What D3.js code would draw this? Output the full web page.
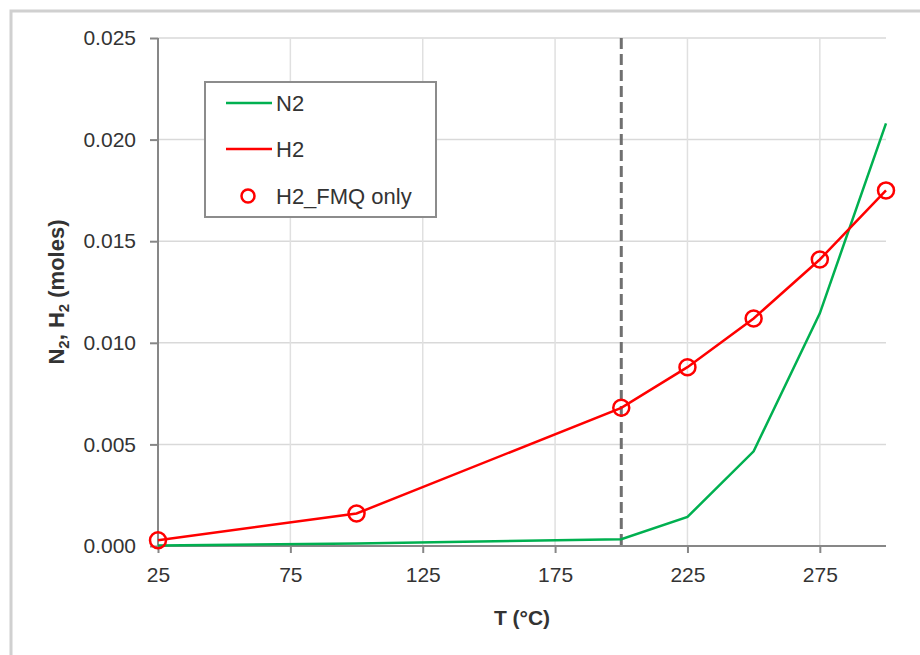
<html>
<head>
<meta charset="utf-8">
<title>N2, H2 vs T</title>
<script src="https://cdnjs.cloudflare.com/ajax/libs/d3/7.8.5/d3.min.js"></script>
<style>
  body { margin: 0; background: #fff; }
  text { font-family: "Liberation Sans", Arial, sans-serif; fill: #333; }
</style>
</head>
<body>
<script>
  // data
  var temps = [25, 100, 200, 225, 250, 275, 300];
  var n2 = [0.00003, 0.00012, 0.00033, 0.00143, 0.00466, 0.01145, 0.0208];
  var h2 = [0.00028, 0.0016, 0.0068, 0.0088, 0.0112, 0.0141, 0.0175];
  var h2Fmq = [0.00028, 0.0016, 0.0068, 0.0088, 0.0112, 0.0141, 0.0175];
  var xTicks = [25, 75, 125, 175, 225, 275];
  var yTicks = [0, 0.005, 0.010, 0.015, 0.020, 0.025];
  var cutoffT = 200;
  var legendNames = ["N2", "H2", "H2_FMQ only"];

  var W = 920, H = 655;
  var plotL = 158, plotR = 886, plotT = 38, plotB = 546;

  var svg = d3.select("body").append("svg")
    .attr("width", W)
    .attr("height", H);

  // outer chart frame
  svg.append("rect")
    .attr("x", 11).attr("y", 11)
    .attr("width", 960).attr("height", 700)
    .attr("fill", "none")
    .attr("stroke", "#d0d0d0")
    .attr("stroke-width", 3);

  var x = d3.scaleLinear().domain([25, 300]).range([plotL, plotR]);
  var y = d3.scaleLinear().domain([0, 0.025]).range([plotB, plotT]);

  // gridlines
  svg.append("g").selectAll("line")
    .data(yTicks.slice(1))
    .enter().append("line")
    .attr("x1", plotL).attr("x2", plotR)
    .attr("y1", function(d) { return y(d); })
    .attr("y2", function(d) { return y(d); })
    .attr("stroke", "#d9d9d9").attr("stroke-width", 1.5);

  svg.append("g").selectAll("line")
    .data(xTicks.slice(1))
    .enter().append("line")
    .attr("y1", plotT).attr("y2", plotB)
    .attr("x1", function(d) { return x(d); })
    .attr("x2", function(d) { return x(d); })
    .attr("stroke", "#e0e0e0").attr("stroke-width", 1.5);

  // axes
  var yAxis = svg.append("g")
    .attr("transform", "translate(" + plotL + ",0)")
    .call(d3.axisLeft(y).tickValues(yTicks).tickFormat(d3.format(".3f")).tickSize(8).tickPadding(14));
  var xAxis = svg.append("g")
    .attr("transform", "translate(0," + plotB + ")")
    .call(d3.axisBottom(x).tickValues(xTicks).tickSize(7).tickPadding(14));

  [yAxis, xAxis].forEach(function(ax) {
    ax.select(".domain").remove();
    ax.selectAll(".tick line").attr("stroke", "#878787").attr("stroke-width", 2);
    ax.selectAll(".tick text")
      .style("font-family", '"Liberation Sans", Arial, sans-serif')
      .style("font-size", "21px")
      .attr("fill", "#333");
  });
  svg.append("line").attr("x1", plotL).attr("x2", plotL).attr("y1", plotT).attr("y2", plotB)
    .attr("stroke", "#878787").attr("stroke-width", 2);
  svg.append("line").attr("x1", plotL).attr("x2", plotR).attr("y1", plotB).attr("y2", plotB)
    .attr("stroke", "#878787").attr("stroke-width", 2);

  // dashed cutoff
  svg.append("line")
    .attr("x1", x(cutoffT)).attr("x2", x(cutoffT))
    .attr("y1", plotT).attr("y2", plotB)
    .attr("stroke", "#707070").attr("stroke-width", 3)
    .attr("stroke-dasharray", "11,5");

  var line = d3.line()
    .x(function(d) { return x(d[0]); })
    .y(function(d) { return y(d[1]); });

  svg.append("path")
    .datum(d3.zip(temps, n2))
    .attr("d", line)
    .attr("fill", "none")
    .attr("stroke", "#00b050").attr("stroke-width", 2.5);

  svg.append("path")
    .datum(d3.zip(temps, h2))
    .attr("d", line)
    .attr("fill", "none")
    .attr("stroke", "#ff0000").attr("stroke-width", 2.5);

  svg.append("g").selectAll("circle")
    .data(d3.zip(temps, h2Fmq))
    .enter().append("circle")
    .attr("cx", function(d) { return x(d[0]); })
    .attr("cy", function(d) { return y(d[1]); })
    .attr("r", 8)
    .attr("fill", "none")
    .attr("stroke", "#ff0000").attr("stroke-width", 2.5);

  // axis titles
  svg.append("text")
    .attr("x", (plotL + plotR) / 2).attr("y", 625)
    .attr("text-anchor", "middle")
    .style("font-size", "21px").style("font-weight", "bold")
    .attr("fill", "#222")
    .text("T (°C)");

  var yt = svg.append("text")
    .attr("transform", "translate(64,292) rotate(-90)")
    .attr("text-anchor", "middle")
    .style("font-size", "22px").style("font-weight", "bold")
    .attr("fill", "#222");
  yt.append("tspan").text("N");
  yt.append("tspan").attr("dy", 5).style("font-size", "15px").text("2");
  yt.append("tspan").attr("dy", -5).text(", H");
  yt.append("tspan").attr("dy", 5).style("font-size", "15px").text("2");
  yt.append("tspan").attr("dy", -5).text(" (moles)");

  // legend
  var lg = svg.append("g");
  lg.append("rect")
    .attr("x", 205).attr("y", 82)
    .attr("width", 231).attr("height", 135)
    .attr("fill", "#fff")
    .attr("stroke", "#8c8c8c").attr("stroke-width", 2);

  var legendY = [103, 149, 196];
  var legendColors = ["#00b050", "#ff0000", "#ff0000"];
  legendNames.forEach(function(name, i) {
    if (i < 2) {
      lg.append("line")
        .attr("x1", 226).attr("x2", 272)
        .attr("y1", legendY[i]).attr("y2", legendY[i])
        .attr("stroke", legendColors[i]).attr("stroke-width", 2.5);
    } else {
      lg.append("circle")
        .attr("cx", 248).attr("cy", legendY[i]).attr("r", 6.5)
        .attr("fill", "none")
        .attr("stroke", legendColors[i]).attr("stroke-width", 2.5);
    }
    lg.append("text")
      .attr("x", 276).attr("y", legendY[i])
      .attr("dy", "0.35em")
      .style("font-size", "22px")
      .attr("fill", "#333")
      .text(name);
  });
</script>
</body>
</html>
